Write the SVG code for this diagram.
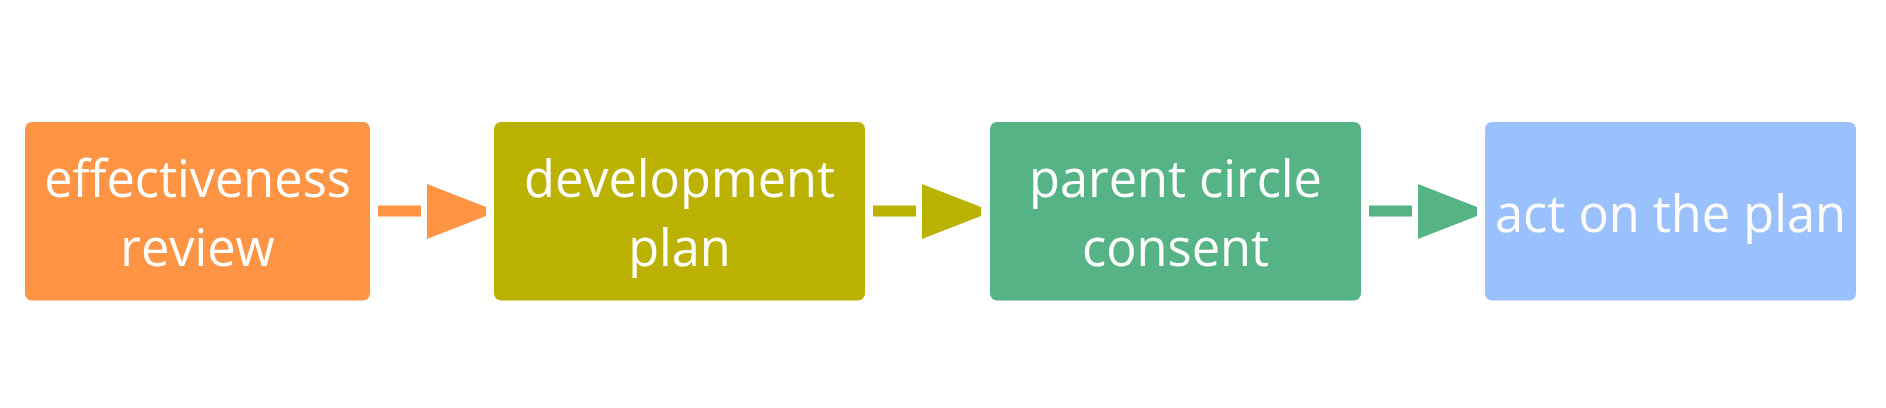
<svg xmlns="http://www.w3.org/2000/svg" width="1886" height="408" viewBox="0 0 1886 408">
<style>
.lbl{font-family:"Open Sans","Noto Sans",sans-serif;font-size:50.5px;fill:#ffffff;text-anchor:middle}
</style>
<defs>
<g id="arrow">
<rect x="8" y="205.5" width="43" height="11"/>
<polygon points="57,184 116,207 116,216 57,239"/>
</g>
</defs>
<rect width="1886" height="408" fill="#ffffff"/>
<g id="connectors">
<use href="#arrow" x="370" fill="#ff9445"/>
<use href="#arrow" x="865" fill="#bbb100"/>
<use href="#arrow" x="1361" fill="#56b385"/>
</g>
<g id="node1">
<rect x="25" y="122" width="345" height="178.5" rx="7" fill="#ff9445"/>
<text class="lbl" x="197.5" y="196.5">effectiveness</text>
<text class="lbl" x="197.5" y="265.5">review</text>
</g>
<g id="node2">
<rect x="494" y="122" width="371" height="178.5" rx="7" fill="#bbb100"/>
<text class="lbl" x="679.5" y="196.5">development</text>
<text class="lbl" x="679.5" y="265.5">plan</text>
</g>
<g id="node3">
<rect x="990" y="122" width="371" height="178.5" rx="7" fill="#56b385"/>
<text class="lbl" x="1175.5" y="196.5">parent circle</text>
<text class="lbl" x="1175.5" y="265.5">consent</text>
</g>
<g id="node4">
<rect x="1485" y="122" width="371" height="178.5" rx="7" fill="#9bc0fe"/>
<text class="lbl" x="1670.5" y="231.5">act on the plan</text>
</g>
</svg>
